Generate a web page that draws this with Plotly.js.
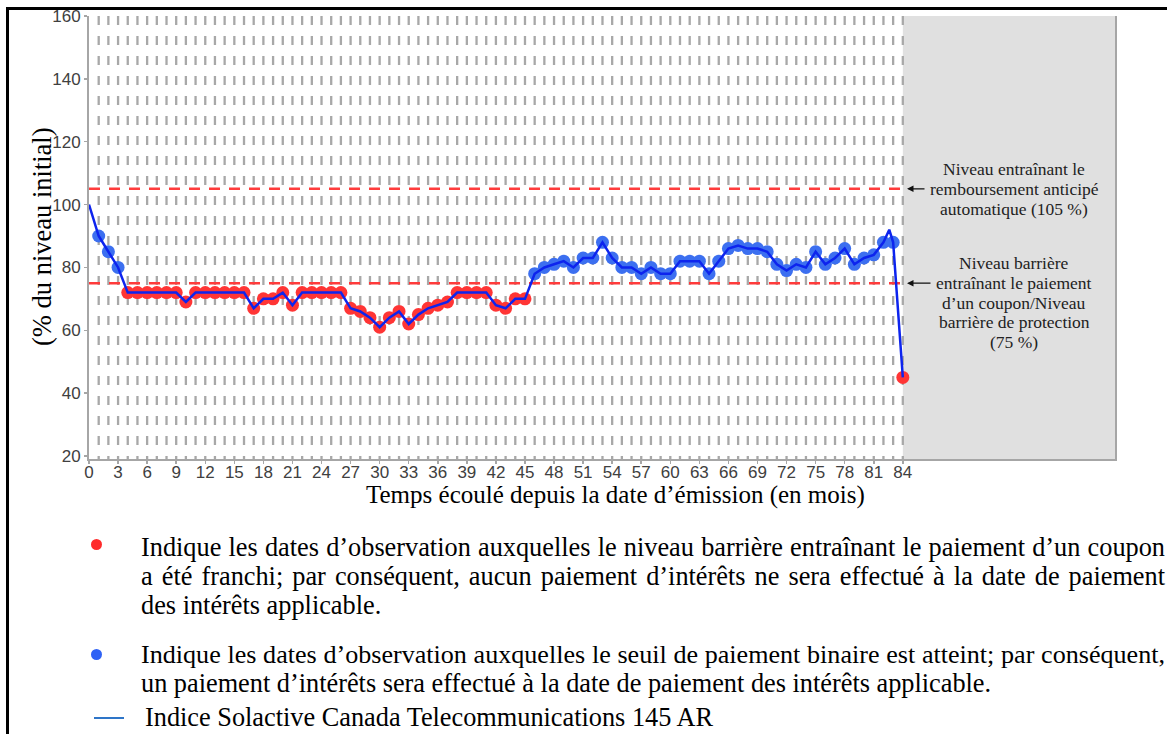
<!DOCTYPE html>
<html>
<head>
<meta charset="utf-8">
<script src="https://cdn.plot.ly/plotly-3.0.1.min.js"></script>
<style>
  html, body { margin:0; padding:0; background:#fff; overflow:hidden; width:1167px; height:734px; }
  #chart { position:absolute; left:0; top:0; width:1167px; height:734px; }
  #frame { position:absolute; left:6px; top:7px; width:1300px; height:900px; border-left:3px solid #000; border-top:3px solid #000; pointer-events:none; }
  .ln { position:absolute; font-family:"Liberation Serif","Times New Roman",serif; font-size:26.3px; line-height:29px; color:#000; white-space:nowrap; }
  .just { text-align:justify; text-align-last:justify; }
  .dot { position:absolute; width:11px; height:11px; border-radius:50%; }
</style>
</head>
<body>
<div id="chart"></div>
<div id="frame"></div>

<div class="dot" style="left:91px;top:539px;background:#ff2b2b;"></div>
<div class="ln just" style="left:141px;top:533px;width:1024px;">Indique les dates d’observation auxquelles le niveau barrière entraînant le paiement d’un coupon</div>
<div class="ln just" style="left:141px;top:562px;width:1024px;">a été franchi; par conséquent, aucun paiement d’intérêts ne sera effectué à la date de paiement</div>
<div class="ln" style="left:141px;top:591px;">des intérêts applicable.</div>

<div class="dot" style="left:91px;top:649px;background:#2f62f5;"></div>
<div class="ln just" style="left:141px;top:640px;width:1024px;">Indique les dates d’observation auxquelles le seuil de paiement binaire est atteint; par conséquent,</div>
<div class="ln" style="left:141px;top:669px;">un paiement d’intérêts sera effectué à la date de paiement des intérêts applicable.</div>

<div style="position:absolute;left:94px;top:717px;width:30px;height:2px;background:#2e75c8;"></div>
<div class="ln" style="left:145px;top:703px;">Indice Solactive Canada Telecommunications 145 AR</div>

<script>
// ---- data ----
const months = [0,1,2,3,4,5,6,7,8,9,10,11,12,13,14,15,16,17,18,19,20,21,22,23,24,25,26,27,28,29,30,31,32,33,34,35,36,37,38,39,40,41,42,43,44,45,46,47,48,49,50,51,52,53,54,55,56,57,58,59,60,61,62,63,64,65,66,67,68,69,70,71,72,73,74,75,76,77,78,79,80,81,82,83,84];
const levels = [100,90,85,80,72,72,72,72,72,72,
                69,72,72,72,72,72,72,67,70,70,
                72,68,72,72,72,72,72,67,66,64,
                61,64,66,62,65,67,68,69,72,72,
                72,72,68,67,70,70,78,80,81,82,
                80,83,83,88,83,80,80,78,80,78,
                78,82,82,82,78,82,86,87,86,86,
                85,81,79,81,80,85,81,83,86,81,
                83,84,88,88,45];
// intra-month index peak visible on the line
const peakMonths = [82.6];
const peakLevels = [92];

const autocallLevel = 105;
const couponBarrier = 75;
const maturity = 84;
const xTickVals = [0,3,6,9,12,15,18,21,24,27,30,33,36,39,42,45,48,51,54,57,60,63,66,69,72,75,78,81,84];
const yTickVals = [20,40,60,80,100,120,140,160];

// ---- fit justified lines that are too wide ----
document.querySelectorAll('.ln.just').forEach(el => {
  let fs = 26.3;
  while (el.scrollWidth > el.clientWidth + 0.5 && fs > 20) { fs -= 0.1; el.style.fontSize = fs + 'px'; }
});

// ---- build traces ----
const obsM = months.slice(1), obsL = levels.slice(1);
const redX = [], redY = [], blueX = [], blueY = [];
obsM.forEach((m, i) => {
  if (obsL[i] < couponBarrier) { redX.push(m); redY.push(obsL[i]); }
  else { blueX.push(m); blueY.push(obsL[i]); }
});
const linePts = months.map((m, i) => [m, levels[i]]).concat(peakMonths.map((m, i) => [m, peakLevels[i]]));
linePts.sort((a, b) => a[0] - b[0]);

const traces = [
  { x: redX, y: redY, type: 'scatter', mode: 'markers', marker: { color: '#ff3535', size: 13, line: { width: 0 } }, hoverinfo: 'skip' },
  { x: blueX, y: blueY, type: 'scatter', mode: 'markers', marker: { color: '#3c6ff0', size: 13, line: { width: 0 } }, hoverinfo: 'skip' },
  { x: linePts.map(p => p[0]), y: linePts.map(p => p[1]), type: 'scatter', mode: 'lines', line: { color: '#0d24ee', width: 2.5 }, hoverinfo: 'skip' }
];

// ---- layout helpers ----
const L = 89, R = 1115, T = 16, B = 459;
const X0 = 0, X1 = 105.9, Y0 = 19.05, Y1 = 160;
const px2x = px => X0 + (px - L) / (R - L) * (X1 - X0);
const pxp = px => (px - L) / (R - L);
const pyp = py => (B - py) / (B - T);

const shapes = [
  { type: 'rect', xref: 'x', yref: 'paper', x0: maturity, x1: X1, y0: 0, y1: 1, fillcolor: '#e0e0e0', line: { width: 0 }, layer: 'below' }
];
obsM.forEach(m => shapes.push({ type: 'line', xref: 'x', yref: 'y', x0: m, x1: m, y0: Y1, y1: Y0, line: { color: '#a8a8a8', width: 2.3, dash: '9px,11px' }, layer: 'below' }));
[autocallLevel, couponBarrier].forEach(v => shapes.push({ type: 'line', xref: 'x', yref: 'y', x0: 0, x1: maturity, y0: v, y1: v, line: { color: '#ff3b3b', width: 2.5, dash: '11px,9px' }, layer: 'below' }));

const annFont = { family: 'Liberation Serif, serif', size: 17.5, color: '#222' };
const annLines = [
  ['Niveau entraînant le', 169], ['remboursement anticipé', 189], ['automatique (105 %)', 209],
  ['Niveau barrière', 263], ['entraînant le paiement', 283], ['d’un coupon/Niveau', 303], ['barrière de protection', 322], ['(75 %)', 342]
];
const annotations = annLines.map(([t, py]) => ({
  text: t, xref: 'paper', yref: 'paper', x: pxp(1014), y: pyp(py), xanchor: 'center', yanchor: 'middle', showarrow: false, font: annFont
}));
annotations.push(
  { text: '', xref: 'x', yref: 'y', x: px2x(907), y: autocallLevel, ax: 19, ay: 0, showarrow: true, arrowhead: 2, arrowsize: 1, arrowwidth: 1.3, arrowcolor: '#111' },
  { text: '', xref: 'x', yref: 'y', x: px2x(907), y: couponBarrier, ax: 25, ay: 0, showarrow: true, arrowhead: 2, arrowsize: 1, arrowwidth: 1.3, arrowcolor: '#111' },
  { text: '(% du niveau initial)', xref: 'paper', yref: 'paper', x: pxp(42), y: pyp(237), xanchor: 'center', yanchor: 'middle', textangle: -90, showarrow: false, font: { family: 'Liberation Serif, serif', size: 26.5, color: '#000' } },
  { text: 'Temps écoulé depuis la date d’émission (en mois)', xref: 'paper', yref: 'paper', x: pxp(615), y: pyp(495), xanchor: 'center', yanchor: 'middle', showarrow: false, font: { family: 'Liberation Serif, serif', size: 25, color: '#000' } }
);

const axisCommon = {
  showgrid: false, zeroline: false, showline: true, linecolor: '#a6a6a6', linewidth: 2,
  ticks: 'outside', ticklen: 3, tickwidth: 1.5, tickcolor: '#a6a6a6',
  tickfont: { family: 'Liberation Sans, Arial, sans-serif', size: 17, color: '#404040' }
};

const layout = {
  width: 1167, height: 734,
  margin: { l: L, r: 1167 - R, t: T, b: 734 - B, pad: 0 },
  paper_bgcolor: 'rgba(0,0,0,0)', plot_bgcolor: '#fff',
  showlegend: false,
  xaxis: Object.assign({}, axisCommon, { range: [X0, X1], tickmode: 'array', tickvals: xTickVals, ticktext: xTickVals.map(String), ticklabelstandoff: -6 }),
  yaxis: Object.assign({}, axisCommon, { range: [Y0, Y1], tickmode: 'array', tickvals: yTickVals, ticktext: yTickVals.map(String), mirror: true }),
  shapes: shapes,
  annotations: annotations
};

Plotly.newPlot('chart', traces, layout, { staticPlot: true, displayModeBar: false });
</script>
</body>
</html>
